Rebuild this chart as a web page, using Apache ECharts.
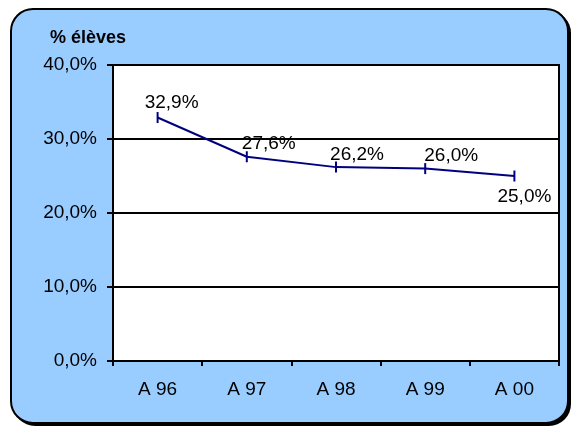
<!DOCTYPE html>
<html>
<head>
<meta charset="utf-8">
<script src="https://cdn.jsdelivr.net/npm/echarts@6/dist/echarts.min.js"></script>
<style>html,body{margin:0;padding:0;background:#fff;}#c{width:574px;height:429px;}</style>
</head>
<body>
<div id="c"></div>
<script>
var categories = ['A 96', 'A 97', 'A 98', 'A 99', 'A 00'];
var values = [32.9, 27.6, 26.2, 26.0, 25.0];
var yTicks = [0, 10, 20, 30, 40];
var titleText = '% élèves';

// label placement (style, not data)
var labelOffsets = [[14, -15], [22, -13], [21, -12], [26, -13], [10, 21]];

var FONT = '"Liberation Sans", Arial, sans-serif';
var chart = echarts.init(document.getElementById('c'));
var fmt = function (v) { return v.toFixed(1).replace('.', ',') + '%'; };

var seriesData = values.map(function (v, i) {
  return { value: v, label: { offset: labelOffsets[i] } };
});

chart.setOption({
  animation: false,
  backgroundColor: '#ffffff',
  graphic: [
    { type: 'rect', z: -10, shape: { x: 13, y: 11, width: 558, height: 415, r: 22 }, style: { fill: '#000' }, silent: true },
    { type: 'rect', z: -9, shape: { x: 11, y: 9, width: 557, height: 414, r: 22 }, style: { fill: '#99CCFF', stroke: '#000', lineWidth: 2 }, silent: true },
    { type: 'text', z: 10, left: 50, top: 29, style: { text: titleText, font: 'bold 18px ' + FONT, fill: '#000' } }
  ],
  grid: { left: 113, right: 15, top: 65, bottom: 68, show: true, backgroundColor: '#fff', borderColor: '#000', borderWidth: 2 },
  xAxis: {
    type: 'category', data: categories, boundaryGap: true,
    axisLine: { lineStyle: { color: '#000', width: 2 } },
    axisTick: { show: true, length: 5, lineStyle: { color: '#000', width: 2 } },
    axisLabel: { color: '#000', fontFamily: FONT, fontSize: 19, margin: 19 }
  },
  yAxis: {
    type: 'value', min: yTicks[0], max: yTicks[yTicks.length - 1], interval: 10,
    axisLine: { show: true, lineStyle: { color: '#000', width: 2 } },
    axisTick: { show: true, length: 6, lineStyle: { color: '#000', width: 2 } },
    splitLine: { lineStyle: { color: '#000', width: 2 } },
    axisLabel: { color: '#000', fontFamily: FONT, fontSize: 19, margin: 16, formatter: fmt }
  },
  series: [{
    type: 'line', data: seriesData,
    symbol: 'rect', symbolSize: [2, 11],
    lineStyle: { color: '#000080', width: 2 },
    itemStyle: { color: '#000080' },
    label: { show: true, position: 'inside', color: '#000', fontFamily: FONT, fontSize: 19, formatter: function (p) { return fmt(p.value); } }
  }]
});
</script>
</body>
</html>
